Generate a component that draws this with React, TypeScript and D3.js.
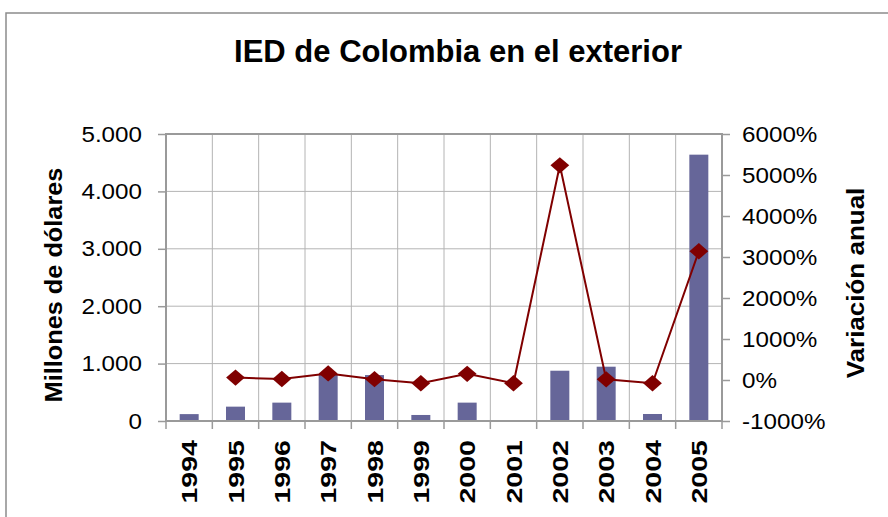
import React, { useEffect, useRef } from "react";
import * as d3 from "d3";

const years = ["1994", "1995", "1996", "1997", "1998", "1999", "2000", "2001", "2002", "2003", "2004", "2005"];
// IED in millones de dólares
const ied = [120, 250, 320, 820, 800, 105, 320, 16, 876, 946, 122, 4640];
// variación anual (%), null where no previous year
const variacion: (number | null)[] = [null, 60, 24, 160, 20, -80, 150, -80, 5236, 17, -80, 3140];

const leftTicks = [0, 1000, 2000, 3000, 4000, 5000];
const rightTicks = [-1000, 0, 1000, 2000, 3000, 4000, 5000, 6000];

// widen text like the old Excel rendering does
const stretch = (sel: d3.Selection<any, any, any, any>, factor: number) => {
  sel.each(function () {
    const el = this as SVGTextElement;
    const w = el.getComputedTextLength();
    el.setAttribute("textLength", String(w * factor));
    el.setAttribute("lengthAdjust", "spacingAndGlyphs");
  });
};

const App: React.FC = () => {
  const svgRef = useRef<SVGSVGElement>(null);

  useEffect(() => {
    if (!svgRef.current) return;
    document.body.style.margin = "0";

    const width = 888;
    const height = 517;
    const plot = { left: 166, top: 134, right: 722, bottom: 421 };
    const font = "'Liberation Sans', Arial, sans-serif";

    const svg = d3.select(svgRef.current);
    svg.selectAll("*").remove();
    svg.attr("width", width).attr("height", height);

    svg.append("rect")
      .attr("width", width).attr("height", height)
      .attr("fill", "#fff");

    // outer chart border
    svg.append("rect")
      .attr("x", 6).attr("y", 13)
      .attr("width", 900).attr("height", 600)
      .attr("fill", "none")
      .attr("stroke", "#8c8c8c")
      .attr("stroke-width", 1.5);

    // SCALES
    const x = d3.scaleBand()
      .domain(years)
      .range([plot.left, plot.right]);

    const yLeft = d3.scaleLinear()
      .domain([0, 5000])
      .range([plot.bottom, plot.top]);

    const yRight = d3.scaleLinear()
      .domain([-1000, 6000])
      .range([plot.bottom, plot.top]);

    // GRID
    const grid = svg.append("g").attr("stroke", "#b4b4b4").attr("stroke-width", 1);
    leftTicks.forEach(t => {
      grid.append("line")
        .attr("x1", plot.left).attr("x2", plot.right)
        .attr("y1", yLeft(t)).attr("y2", yLeft(t));
    });
    years.forEach((yr, i) => {
      if (i === 0) return;
      const gx = x(yr)!;
      grid.append("line")
        .attr("x1", gx).attr("x2", gx)
        .attr("y1", plot.top).attr("y2", plot.bottom);
    });

    // BARS
    const barW = 19;
    svg.append("g")
      .selectAll("rect")
      .data(ied)
      .enter()
      .append("rect")
      .attr("x", (d, i) => x(years[i])! + x.bandwidth() / 2 - barW / 2)
      .attr("y", d => yLeft(d))
      .attr("width", barW)
      .attr("height", d => plot.bottom - yLeft(d))
      .attr("fill", "#666699");

    // PLOT BORDER
    svg.append("rect")
      .attr("x", plot.left).attr("y", plot.top)
      .attr("width", plot.right - plot.left)
      .attr("height", plot.bottom - plot.top)
      .attr("fill", "none")
      .attr("stroke", "#9a9a9a")
      .attr("stroke-width", 2);

    // LEFT AXIS
    const axisL = svg.append("g")
      .attr("transform", `translate(${plot.left},0)`)
      .call(d3.axisLeft(yLeft).tickValues(leftTicks).tickSize(8).tickPadding(16)
        .tickFormat(d => d3.format(",")(d as number).replace(/,/g, ".")));
    axisL.select(".domain").remove();
    axisL.selectAll("line").attr("stroke", "#9a9a9a").attr("stroke-width", 1.5);
    const leftLabels = axisL.selectAll("text")
      .attr("font-family", font).attr("font-size", 22).attr("fill", "#000");
    stretch(leftLabels, 1.1);

    // RIGHT AXIS
    const axisR = svg.append("g")
      .attr("transform", `translate(${plot.right},0)`)
      .call(d3.axisRight(yRight).tickValues(rightTicks).tickSize(8).tickPadding(12)
        .tickFormat(d => `${d}%`));
    axisR.select(".domain").remove();
    axisR.selectAll("line").attr("stroke", "#9a9a9a").attr("stroke-width", 1.5);
    const rightLabels = axisR.selectAll("text")
      .attr("font-family", font).attr("font-size", 22).attr("fill", "#000");
    stretch(rightLabels, 1.1);

    // BOTTOM AXIS
    const axisB = svg.append("g")
      .attr("transform", `translate(0,${plot.bottom})`);
    [...years.map(yr => x(yr)!), plot.right].forEach(tx => {
      axisB.append("line")
        .attr("x1", tx).attr("x2", tx)
        .attr("y1", 0).attr("y2", 8)
        .attr("stroke", "#9a9a9a").attr("stroke-width", 1.5);
    });
    const yearLabels = axisB.selectAll(".year")
      .data(years)
      .enter()
      .append("text")
      .attr("class", "year")
      .attr("transform", d => `translate(${x(d)! + x.bandwidth() / 2 + 8},19) rotate(-90)`)
      .attr("text-anchor", "end")
      .attr("font-family", font)
      .attr("font-size", 22)
      .attr("font-weight", "bold")
      .attr("fill", "#000")
      .text(d => d);
    stretch(yearLabels, 1.3);

    // LINE
    const pts = variacion
      .map((v, i) => ({ year: years[i], v }))
      .filter(d => d.v !== null) as { year: string; v: number }[];

    const line = d3.line<{ year: string; v: number }>()
      .x(d => x(d.year)! + x.bandwidth() / 2)
      .y(d => yRight(d.v));

    svg.append("path")
      .datum(pts)
      .attr("d", line)
      .attr("fill", "none")
      .attr("stroke", "#800000")
      .attr("stroke-width", 2);

    svg.append("g")
      .selectAll("path")
      .data(pts)
      .enter()
      .append("path")
      .attr("d", d3.symbol().type(d3.symbolDiamond2).size(170)() as string)
      .attr("transform", d => `translate(${x(d.year)! + x.bandwidth() / 2},${yRight(d.v)}) scale(1.15,1)`)
      .attr("fill", "#800000");

    // TITLES
    svg.append("text")
      .attr("x", 458)
      .attr("y", 62)
      .attr("text-anchor", "middle")
      .attr("font-family", font)
      .attr("font-size", 31)
      .attr("font-weight", "bold")
      .text("IED de Colombia en el exterior");

    const leftTitle = svg.append("text")
      .attr("transform", "translate(62,285) rotate(-90)")
      .attr("text-anchor", "middle")
      .attr("font-family", font)
      .attr("font-size", 23)
      .attr("font-weight", "bold")
      .text("Millones de dólares");
    stretch(leftTitle, 1.1);

    const rightTitle = svg.append("text")
      .attr("transform", "translate(864,283) rotate(-90)")
      .attr("text-anchor", "middle")
      .attr("font-family", font)
      .attr("font-size", 23)
      .attr("font-weight", "bold")
      .text("Variación anual");
    stretch(rightTitle, 1.13);
  }, []);

  return <svg ref={svgRef}></svg>;
};

export default App;
